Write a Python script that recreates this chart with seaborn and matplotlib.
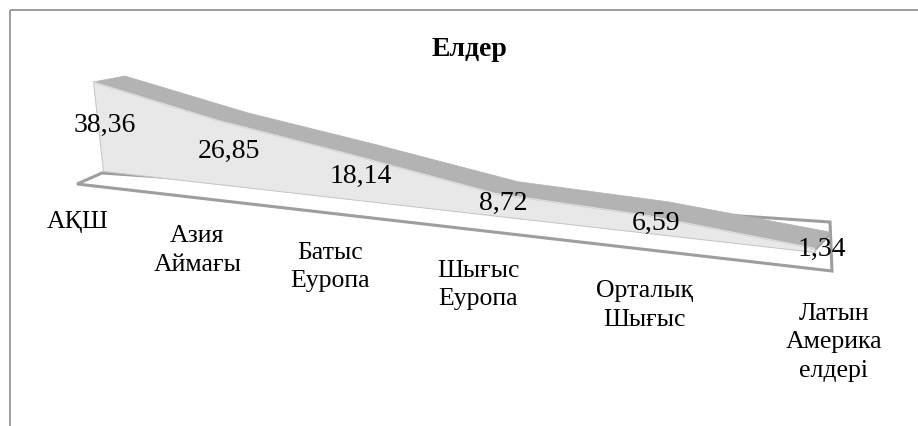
import numpy as np
import seaborn as sns
import matplotlib
matplotlib.use("Agg")
from matplotlib import pyplot as plt
from matplotlib import transforms as mtransforms
from matplotlib.patches import Rectangle

# data
categories = ["АҚШ", "Азия\nАймағы", "Батыс\nЕуропа", "Шығыс\nЕуропа",
              "Орталық\nШығыс", "Латын\nАмерика\nелдері"]
shares = [38.36, 26.85, 18.14, 8.72, 6.59, 1.34]
title = "Елдер"


class Perspective(mtransforms.Transform):
    """Homography (t, v) -> pixel, used to fake Excel's 3D area view."""
    input_dims = 2
    output_dims = 2
    is_separable = False

    def __init__(self, H):
        super().__init__()
        self.H = np.asarray(H, dtype=float)

    def transform_non_affine(self, values):
        values = np.asarray(values, dtype=float).reshape(-1, 2)
        pts = np.column_stack([values, np.ones(len(values))]) @ self.H.T
        return pts[:, :2] / pts[:, 2:3]


def homography(src, dst):
    rows, rhs = [], []
    for (x, y), (u, w) in zip(src, dst):
        rows.append([x, y, 1, 0, 0, 0, -u * x, -u * y]); rhs.append(u)
        rows.append([0, 0, 0, x, y, 1, -w * x, -w * y]); rhs.append(w)
    h = np.linalg.solve(np.array(rows, float), np.array(rhs, float))
    return np.append(h, 1).reshape(3, 3)


# planes of the fake 3D view (pixel space)
c = -0.0342
H_front = [[114.5, -0.26, 103], [7.55, -2.32, 172], [c, 0, 1]]
H_back = [[110.7, -0.26, 135], [6.06, -2.32, 166], [c, 0, 1]]
H_cats = [[109.5, 0, 78], [3.2, 0, 211], [-0.05, 0, 1]]

sns.set_theme(style="white")
plt.rcParams['font.family'] = ['Liberation Serif', 'DejaVu Serif']

fig = plt.figure(figsize=(9.18, 4.27), dpi=100)
ax = fig.add_axes([0, 0, 1, 1])

n = len(shares)
t = np.arange(n)
v = np.array(shares)
last = n - 1

H_floor = homography([(0, 0), (last, 0), (last, 1), (0, 1)],
                     [(77, 185), (832, 272), (830, 223), (102, 174)])

tr_front = Perspective(H_front) + ax.transData
tr_floor = Perspective(H_floor) + ax.transData

# chart border
ax.add_patch(Rectangle((9.5, 10.5), 1200, 1200, fill=False,
                       ec="#8c8c8c", lw=1.2))

# floor
ax.fill([0, last, last, 0], [0, 0, 1, 1], transform=tr_floor,
        fc="white", ec="#9e9e9e", lw=2.2, joinstyle="miter", zorder=2)

# top surface + right cap
front_top = Perspective(H_front).transform(np.column_stack([t, v]))
back_top = Perspective(H_back).transform(np.column_stack([t, v]))
top = np.vstack([front_top, back_top[::-1]])
ax.fill(top[:, 0], top[:, 1], fc="#b3b3b3", ec="#b3b3b3", lw=0.5, zorder=3)
cap_f = Perspective(H_front).transform([[last, 0], [last, v[-1]]])
cap_b = Perspective(H_back).transform([[last, v[-1]], [last, 0]])
cap = np.vstack([cap_f, cap_b])
ax.fill(cap[:, 0], cap[:, 1], fc="#a8a8a8", ec="none", zorder=3)

# front face
ax.fill_between(t, 0, v, transform=tr_front, facecolor="#e8e8e8",
                edgecolor="#c4c4c4", lw=0.7, zorder=4)
sns.lineplot(x=t, y=v, ax=ax, transform=tr_front, color="#e0e0e0",
             lw=0.8, zorder=4, legend=False)

# data labels
tr_lab = Perspective(H_front) + mtransforms.Affine2D().translate(7, -2) + ax.transData
for ti, vi in zip(t, v):
    ax.text(ti, vi / 2, f"{vi:.2f}".replace(".", ","), transform=tr_lab,
            ha="center", va="center", fontsize=20, color="black", zorder=6)

# category labels
tr_cat = Perspective(H_cats) + ax.transData
for ti, lab in zip(t, categories):
    ax.text(ti, 0, lab, transform=tr_cat, ha="center", va="top",
            multialignment="center", fontsize=18.5, linespacing=1.4,
            color="black", zorder=6)

ax.text(469, 56, title, ha="center", va="baseline", fontsize=20,
        fontweight="bold", color="black")

ax.set_xlim(0, 918)
ax.set_ylim(427, 0)
ax.axis("off")

fig.savefig("out.png", dpi=100)
